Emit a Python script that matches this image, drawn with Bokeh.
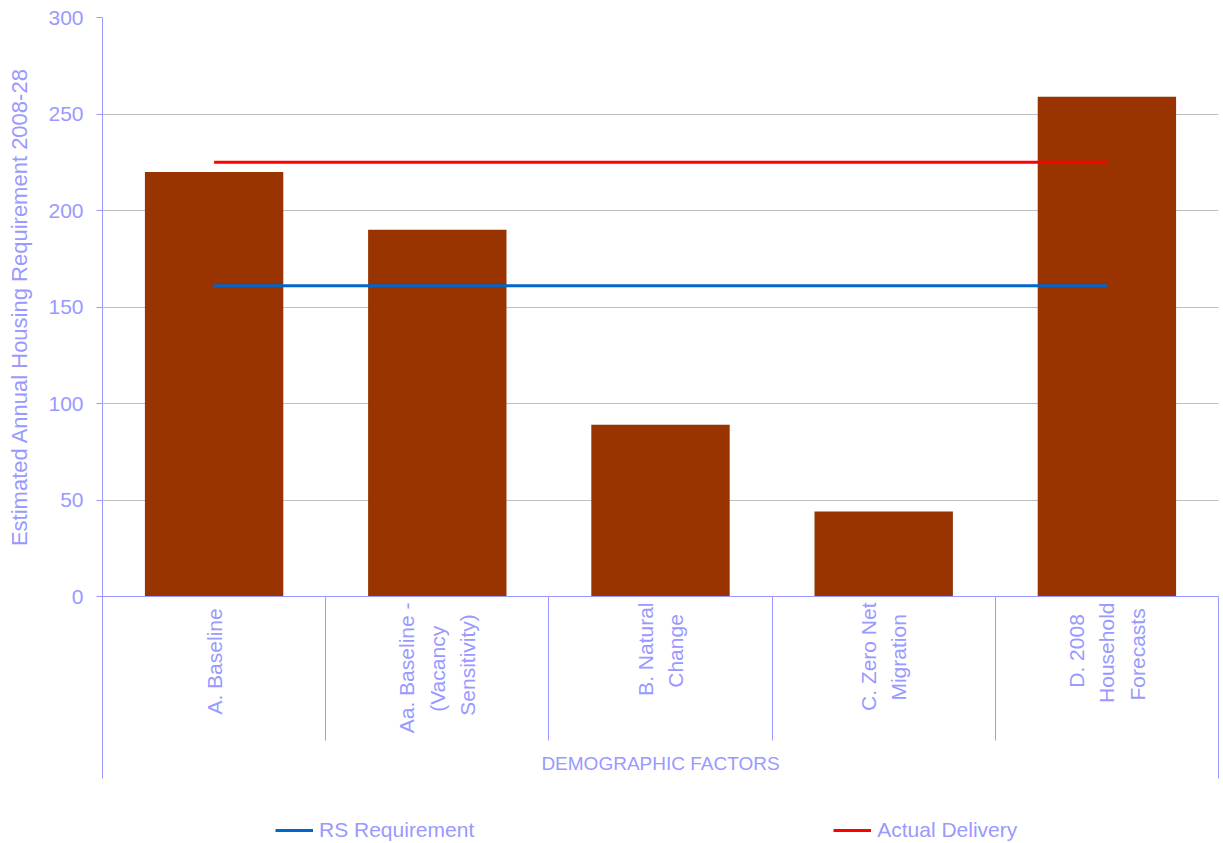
import math

from bokeh.embed import file_html
from bokeh.layouts import column
from bokeh.models import FixedTicker, Grid, Legend, LegendItem, LinearAxis, Range1d
from bokeh.plotting import figure
from bokeh.resources import INLINE

# Scenario names (multi-line tick labels, short lines padded with no-break
# spaces so each block reads centred), estimated requirement per scenario,
# and the two flat reference series drawn across all scenarios.
NB = "\u00a0"
categories = [
    "A.  Baseline",
    "Aa. Baseline -\n(Vacancy" + NB * 4 + "\nSensitivity)" + NB * 2,
    "B. Natural\nChange" + NB * 2,
    "C. Zero Net\nMigration" + NB * 2,
    "D. 2008" + NB * 2 + "\nHousehold\nForecasts" + NB,
]
requirement = [220, 190, 89, 44, 259]
rs_requirement = [161, 161, 161, 161, 161]
actual_delivery = [225, 225, 225, 225, 225]
y_ticks = [0, 50, 100, 150, 200, 250, 300]

FONT = "Liberation Sans"
AXIS_COLOR = "#9999ff"
GRID_COLOR = "#c0c0c0"
BAR_COLOR = "#993300"
RS_COLOR = "#0066cc"
ACTUAL_COLOR = "#ff0000"

n = len(categories)
centers = [i + 0.5 for i in range(n)]
separators = list(range(1, n))

p = figure(
    width=1223, height=810,
    x_range=Range1d(0, n), y_range=Range1d(y_ticks[0], y_ticks[-1]),
    x_axis_location=None, y_axis_location=None,
    output_backend="svg", toolbar_location=None,
    min_border_left=102, min_border_right=5, min_border_top=17, min_border_bottom=214,
)
p.outline_line_color = None
p.xgrid.grid_line_color = None
p.ygrid.grid_line_color = None

# value axis
yaxis = LinearAxis(
    ticker=FixedTicker(ticks=y_ticks),
    axis_label="Estimated Annual Housing Requirement 2008-28",
    axis_label_text_font=FONT, axis_label_text_font_size="22px",
    axis_label_text_font_style="normal", axis_label_text_color=AXIS_COLOR,
    axis_label_standoff=13,
    major_label_text_font=FONT, major_label_text_font_size="21px",
    major_label_text_color=AXIS_COLOR, major_label_standoff=13,
    axis_line_color=AXIS_COLOR, major_tick_line_color=AXIS_COLOR,
    major_tick_out=6, major_tick_in=0, minor_tick_line_color=None,
)
p.add_layout(yaxis, "left")
p.add_layout(Grid(dimension=1, ticker=yaxis.ticker, grid_line_color=GRID_COLOR))

# baseline rule plus the two outer verticals of the category block
edge_axis = LinearAxis(
    ticker=FixedTicker(ticks=[], minor_ticks=[0, n]),
    axis_line_color=AXIS_COLOR, major_tick_line_color=None, major_label_standoff=0,
    minor_tick_out=182, minor_tick_in=0, minor_tick_line_color=AXIS_COLOR,
)
p.add_layout(edge_axis, "below")

# category labels; this axis sits at the foot of the block, so its minor ticks
# reach back up to form the dividers between scenarios
xaxis = LinearAxis(
    ticker=FixedTicker(ticks=centers, minor_ticks=separators),
    major_label_overrides={c: lab for c, lab in zip(centers, categories)},
    major_label_orientation=math.pi / 2,
    major_label_text_font=FONT, major_label_text_font_size="21px",
    major_label_text_color=AXIS_COLOR, major_label_text_line_height=1.33,
    major_label_standoff=-176,
    axis_label="DEMOGRAPHIC FACTORS",
    axis_label_text_font=FONT, axis_label_text_font_size="19px",
    axis_label_text_font_style="normal", axis_label_text_color=AXIS_COLOR,
    axis_label_standoff=17,
    axis_line_color=None,
    major_tick_out=0, major_tick_in=0, major_tick_line_color=None,
    minor_tick_out=-38, minor_tick_in=182, minor_tick_line_color=AXIS_COLOR,
)
p.add_layout(xaxis, "below")

p.vbar(x=centers, top=requirement, width=0.62, bottom=0,
       fill_color=BAR_COLOR, line_color=None)
p.line(x=centers, y=rs_requirement, line_color=RS_COLOR, line_width=3)
p.line(x=centers, y=actual_delivery, line_color=ACTUAL_COLOR, line_width=3)

# legend strip under the chart; its own ranges keep the twin lines off-canvas,
# so only their legend keys show
key = figure(
    width=1223, height=33, x_range=Range1d(0, 1), y_range=Range1d(0, 1),
    x_axis_location=None, y_axis_location=None,
    output_backend="svg", toolbar_location=None,
    min_border_left=0, min_border_right=0, min_border_top=0, min_border_bottom=0,
)
key.outline_line_color = None
key.xgrid.grid_line_color = None
key.ygrid.grid_line_color = None
k_rs = key.line(x=centers, y=rs_requirement, line_color=RS_COLOR, line_width=3)
k_act = key.line(x=centers, y=actual_delivery, line_color=ACTUAL_COLOR, line_width=3)

legend = Legend(
    items=[LegendItem(label="RS Requirement", renderers=[k_rs]),
           LegendItem(label="Actual Delivery", renderers=[k_act])],
    orientation="horizontal", location=(173, 1),
    glyph_width=38, glyph_height=20, label_height=20,
    label_standoff=6, label_width=154, spacing=359, padding=0, margin=0,
    label_text_font=FONT, label_text_font_size="21px", label_text_color=AXIS_COLOR,
    border_line_color=None, background_fill_alpha=0,
)
key.add_layout(legend, "center")

page = column(p, key, spacing=0)
open("out.html", "w").write(file_html(page, INLINE))
